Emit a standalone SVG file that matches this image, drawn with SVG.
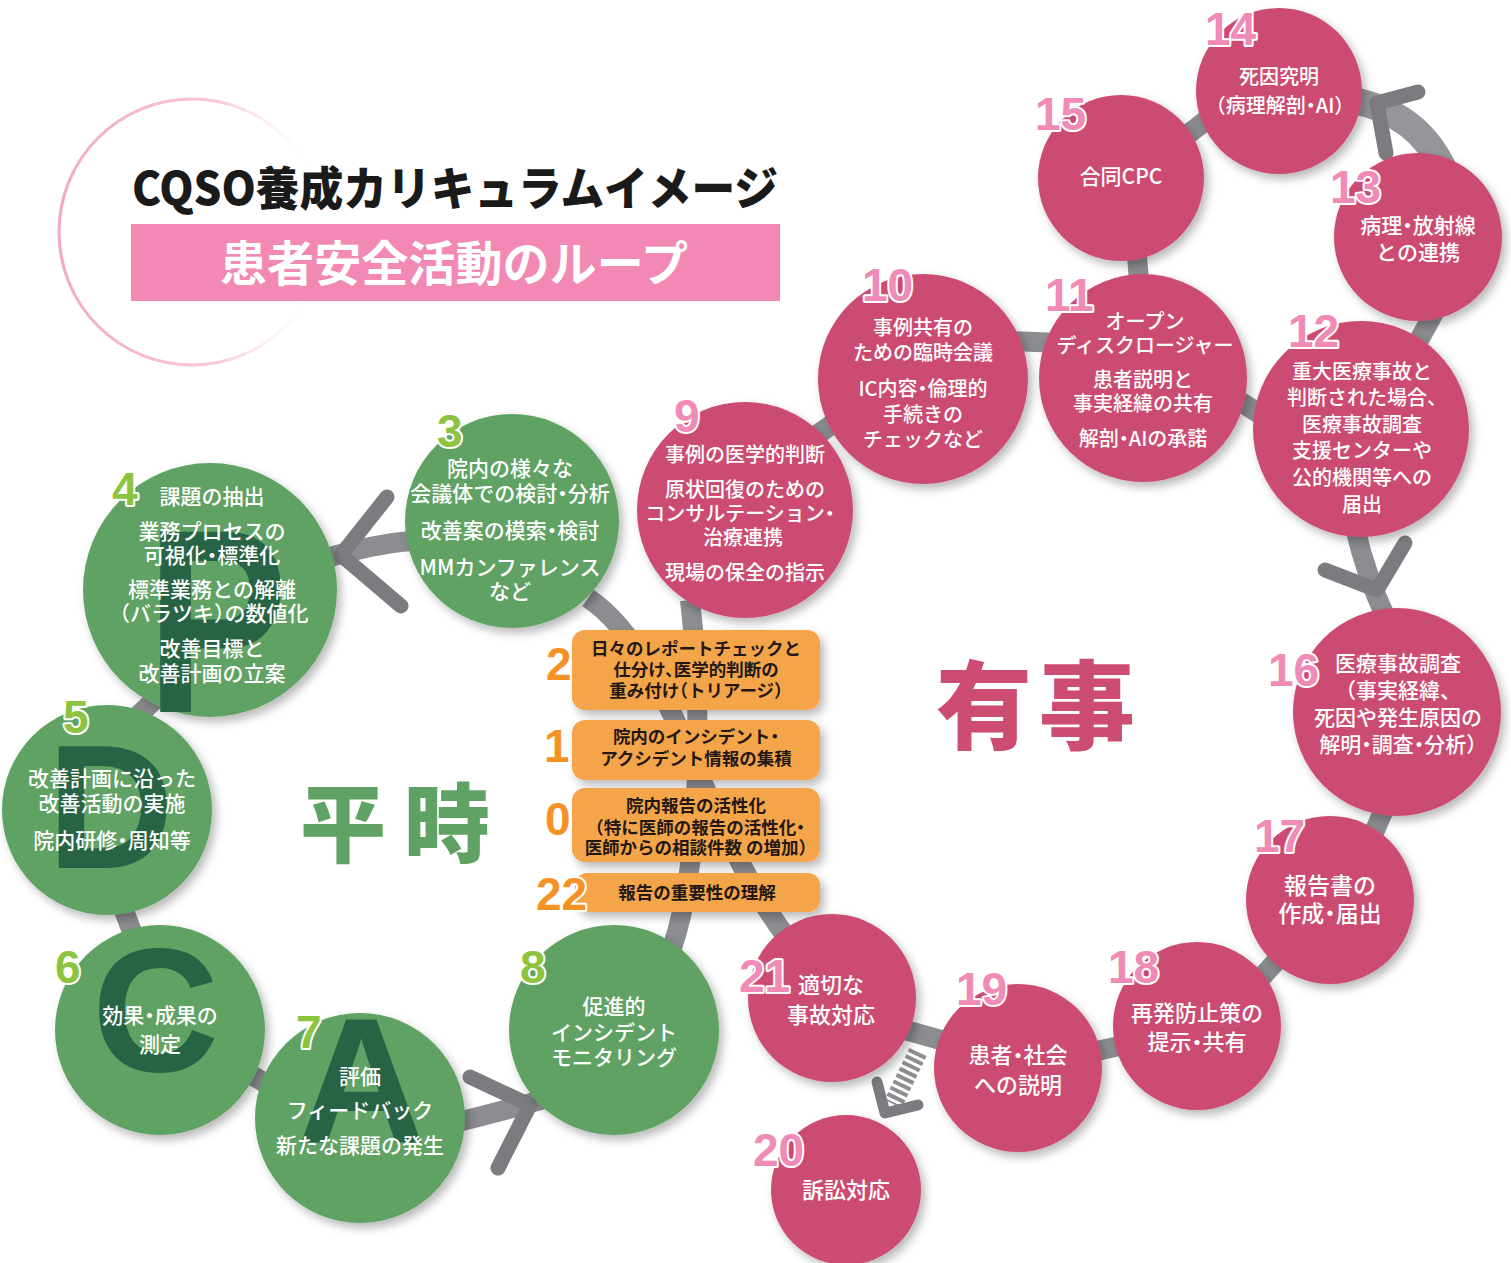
<svg xmlns="http://www.w3.org/2000/svg" width="1511" height="1263" viewBox="0 0 1511 1263">
<defs>
<style>
.t{font-family:"Noto Sans CJK JP","Noto Sans",sans-serif;fill:#fff;font-size:20px;text-anchor:middle;font-weight:500;font-feature-settings:"halt"}
.b{font-family:"Noto Sans CJK JP","Noto Sans",sans-serif;fill:#231815;font-size:17.5px;text-anchor:middle;font-weight:700;font-feature-settings:"halt"}
.num{font-family:"Liberation Sans",Arial,sans-serif;font-weight:bold;font-size:46px;stroke:#fff;stroke-width:4;paint-order:stroke;stroke-linejoin:round}
.np{fill:#f08ab6}.ng{fill:#8cc43f}.no{fill:#f39325}
.gc{fill:#5fa263}.pc{fill:#cc4c72}
.band{fill:none;stroke:#8c8d91;stroke-width:20}
.chev{fill:none;stroke:#7b7c80;stroke-width:15;stroke-linecap:round;stroke-linejoin:round}
.big{font-family:"Liberation Sans",Arial,sans-serif;font-weight:bold;fill:#276445}
.ob{fill:#f5a54a}
</style>
<filter id="sh" x="-20%" y="-20%" width="150%" height="150%">
<feDropShadow dx="4" dy="5" stdDeviation="5" flood-color="#000" flood-opacity="0.28"/>
</filter>
<linearGradient id="ring" x1="0" y1="0" x2="1" y2="0">
<stop offset="0" stop-color="#f3a7c8"/>
<stop offset="0.6" stop-color="#f7c8dc"/>
<stop offset="1" stop-color="#ffffff" stop-opacity="0"/>
</linearGradient>
<clipPath id="c5"><circle cx="107" cy="810" r="105"/></clipPath>
<clipPath id="c7"><circle cx="360" cy="1118" r="105"/></clipPath>
</defs>
<rect width="1511" height="1263" fill="#fff"/>

<g id="title">
<circle cx="192" cy="232" r="133" fill="none" stroke="url(#ring)" stroke-width="3"/>
<text x="132" y="205" font-family="'Noto Sans CJK JP',sans-serif" font-weight="900" font-size="46" fill="#1a1a1a" textLength="646" lengthAdjust="spacingAndGlyphs">CQSO養成カリキュラムイメージ</text>
<rect x="131" y="224" width="649" height="77" fill="#f189b4"/>
<text x="454" y="281" font-family="'Noto Sans CJK JP',sans-serif" font-weight="700" font-size="48" fill="#fff" text-anchor="middle" textLength="468" lengthAdjust="spacingAndGlyphs">患者安全活動のループ</text>
</g>

<g id="connectors">
<path class="band" d="M420 540 Q370 544 320 560"/>
<path class="band" d="M165 690 L125 728"/>
<path class="band" d="M120 900 L137 945"/>
<path class="band" d="M240 1068 L290 1098"/>
<path class="band" d="M450 1124 Q500 1112 548 1098"/>
<path class="band" d="M672 948 C702 860 702 700 690 600"/>
<path class="band" d="M588 598 C680 660 700 840 805 960"/>
<path class="band" d="M800 447 L852 410"/>
<path class="band" d="M1010 341 L1060 343"/>
<path class="band" d="M1136 245 L1140 292"/>
<path class="band" d="M1178 142 L1222 108"/>
<path class="band" d="M1350 100 Q1418 112 1445 172" style="stroke:#95969a;stroke-width:27"/>
<path class="band" d="M1230 395 L1272 422"/>
<path class="band" d="M1418 342 L1442 298"/>
<path class="band" d="M1355 528 Q1366 575 1386 618"/>
<path class="band" d="M1388 800 L1370 842"/>
<path class="band" d="M1288 948 L1252 988"/>
<path class="band" d="M1128 1044 L1088 1053"/>
<path class="band" d="M948 1042 L898 1028"/>
<path d="M918 1052 L893 1104" fill="none" stroke="#8c8d91" stroke-width="19" stroke-dasharray="4 3"/>
<polyline class="chev" points="387,497 341,555 401,606"/>
<polyline class="chev" points="470,1077 530,1105 498,1168"/>
<polyline class="chev" points="1418,92 1377,103 1386,153"/>
<polyline class="chev" points="1325,570 1377,590 1405,543"/>
<polyline class="chev" points="877,1082 885,1113 918,1105" style="stroke-width:11"/>
</g>

<g id="boxes">
<g id="n2"><rect class="ob" x="572" y="630" width="248" height="80" rx="13" filter="url(#sh)"/>
<text class="b" x="696" y="655">日々のレポートチェックと</text>
<text class="b" x="696" y="676">仕分け、医学的判断の</text>
<text class="b" x="696" y="697">重み付け（トリアージ）</text>
<text class="num no" x="546" y="680">2</text></g>
<g id="n1"><rect class="ob" x="572" y="720" width="248" height="60" rx="13" filter="url(#sh)"/>
<text class="b" x="696" y="743">院内のインシデント・</text>
<text class="b" x="696" y="765">アクシデント情報の集積</text>
<text class="num no" x="544" y="762">1</text></g>
<g id="n0"><rect class="ob" x="572" y="788" width="248" height="74" rx="13" filter="url(#sh)"/>
<text class="b" x="696" y="812">院内報告の活性化</text>
<text class="b" x="700" y="834">（特に医師の報告の活性化・</text>
<text class="b" x="696" y="854">医師からの相談件数 の増加）</text>
<text class="num no" x="545" y="835">0</text></g>
<g id="n22"><rect class="ob" x="575" y="873" width="245" height="39" rx="12" filter="url(#sh)"/>
<text class="b" x="697" y="899">報告の重要性の理解</text>
<text class="num no" x="536" y="910">22</text></g>
</g>

<g id="n3"><circle class="gc" cx="512" cy="521" r="107" filter="url(#sh)"/>
<text class="t" x="510" y="476" style="font-size:21px">院内の様々な</text>
<text class="t" x="510" y="501" style="font-size:21px">会議体での検討・分析</text>
<text class="t" x="510" y="538" style="font-size:21px">改善案の模索・検討</text>
<text class="t" x="510" y="575" style="font-size:21px">MMカンファレンス</text>
<text class="t" x="510" y="599" style="font-size:21px">など</text>
<text class="num ng" x="437" y="447">3</text></g>

<g id="n4"><circle class="gc" cx="210" cy="590" r="127" filter="url(#sh)"/>
<text class="big" x="146" y="712" font-size="262" textLength="142" lengthAdjust="spacingAndGlyphs">P</text>
<text class="t" x="212" y="504" style="font-size:21px">課題の抽出</text>
<text class="t" x="212" y="539" style="font-size:21px">業務プロセスの</text>
<text class="t" x="212" y="563" style="font-size:21px">可視化・標準化</text>
<text class="t" x="212" y="597" style="font-size:21px">標準業務との解離</text>
<text class="t" x="214" y="621" style="font-size:21px">（バラツキ）の数値化</text>
<text class="t" x="212" y="656" style="font-size:21px">改善目標と</text>
<text class="t" x="212" y="681" style="font-size:21px">改善計画の立案</text>
<text class="num ng" x="112" y="505">4</text></g>

<g id="n5"><circle class="gc" cx="107" cy="810" r="105" filter="url(#sh)"/>
<g clip-path="url(#c5)"><text class="big" x="47" y="868" font-size="176">D</text></g>
<text class="t" x="112" y="786" style="font-size:21px">改善計画に沿った</text>
<text class="t" x="112" y="811" style="font-size:21px">改善活動の実施</text>
<text class="t" x="112" y="848" style="font-size:21px">院内研修・周知等</text>
<text class="num ng" x="63" y="733">5</text></g>

<g id="n6"><circle class="gc" cx="160" cy="1030" r="105" filter="url(#sh)"/>
<text class="big" x="92" y="1071" font-size="176">C</text>
<text class="t" x="160" y="1023" style="font-size:21px">効果・成果の</text>
<text class="t" x="160" y="1052" style="font-size:21px">測定</text>
<text class="num ng" x="55" y="983">6</text></g>

<g id="n7"><circle class="gc" cx="360" cy="1118" r="105" filter="url(#sh)"/>
<g clip-path="url(#c7)"><text class="big" x="297" y="1142" font-size="178">A</text></g>
<text class="t" x="360" y="1084" style="font-size:21px">評価</text>
<text class="t" x="360" y="1118" style="font-size:21px">フィードバック</text>
<text class="t" x="360" y="1153" style="font-size:21px">新たな課題の発生</text>
<text class="num ng" x="296" y="1048">7</text></g>

<g id="n8"><circle class="gc" cx="614" cy="1030" r="105" filter="url(#sh)"/>
<text class="t" x="614" y="1014" style="font-size:21px">促進的</text>
<text class="t" x="614" y="1040" style="font-size:21px">インシデント</text>
<text class="t" x="614" y="1065" style="font-size:21px">モニタリング</text>
<text class="num ng" x="520" y="983">8</text></g>

<g id="n9"><circle class="pc" cx="745" cy="510" r="108" filter="url(#sh)"/>
<text class="t" x="745" y="462">事例の医学的判断</text>
<text class="t" x="745" y="497">原状回復のための</text>
<text class="t" x="740" y="521">コンサルテーション・</text>
<text class="t" x="743" y="545">治療連携</text>
<text class="t" x="745" y="580">現場の保全の指示</text>
<text class="num np" x="674" y="432">9</text></g>

<g id="n10"><circle class="pc" cx="923" cy="379" r="105" filter="url(#sh)"/>
<text class="t" x="923" y="335">事例共有の</text>
<text class="t" x="923" y="360">ための臨時会議</text>
<text class="t" x="923" y="396">IC内容・倫理的</text>
<text class="t" x="923" y="422">手続きの</text>
<text class="t" x="923" y="447">チェックなど</text>
<text class="num np" x="862" y="301">10</text></g>

<g id="n11"><circle class="pc" cx="1143" cy="378" r="104" filter="url(#sh)"/>
<text class="t" x="1145" y="329">オープン</text>
<text class="t" x="1145" y="353">ディスクロージャー</text>
<text class="t" x="1143" y="387">患者説明と</text>
<text class="t" x="1143" y="411">事実経緯の共有</text>
<text class="t" x="1143" y="446">解剖・AIの承諾</text>
<text class="num np" x="1045" y="311">11</text></g>

<g id="n15"><circle class="pc" cx="1121" cy="178" r="83" filter="url(#sh)"/>
<text class="t" x="1121" y="184" style="font-size:21px">合同CPC</text>
<text class="num np" x="1035" y="130">15</text></g>

<g id="n14"><circle class="pc" cx="1279" cy="91" r="83" filter="url(#sh)"/>
<text class="t" x="1279" y="84">死因究明</text>
<text class="t" x="1280" y="113">（病理解剖・AI）</text>
<text class="num np" x="1205" y="45">14</text></g>

<g id="n13"><circle class="pc" cx="1418" cy="237" r="84" filter="url(#sh)"/>
<text class="t" x="1418" y="233" style="font-size:21px">病理・放射線</text>
<text class="t" x="1418" y="260" style="font-size:21px">との連携</text>
<text class="num np" x="1330" y="203">13</text></g>

<g id="n12"><circle class="pc" cx="1361" cy="429" r="108" filter="url(#sh)"/>
<text class="t" x="1362" y="379">重大医療事故と</text>
<text class="t" x="1362" y="405">判断された場合、</text>
<text class="t" x="1362" y="432">医療事故調査</text>
<text class="t" x="1362" y="458">支援センターや</text>
<text class="t" x="1362" y="485">公的機関等への</text>
<text class="t" x="1362" y="512">届出</text>
<text class="num np" x="1288" y="347">12</text></g>

<g id="n16"><circle class="pc" cx="1397" cy="712" r="104" filter="url(#sh)"/>
<text class="t" x="1398" y="671" style="font-size:21px">医療事故調査</text>
<text class="t" x="1398" y="698" style="font-size:21px">（事実経緯、</text>
<text class="t" x="1398" y="725" style="font-size:21px">死因や発生原因の</text>
<text class="t" x="1398" y="752" style="font-size:21px">解明・調査・分析）</text>
<text class="num np" x="1268" y="686">16</text></g>

<g id="n17"><circle class="pc" cx="1330" cy="900" r="84" filter="url(#sh)"/>
<text class="t" x="1330" y="894" style="font-size:23px">報告書の</text>
<text class="t" x="1330" y="922" style="font-size:23px">作成・届出</text>
<text class="num np" x="1254" y="852">17</text></g>

<g id="n18"><circle class="pc" cx="1197" cy="1026" r="84" filter="url(#sh)"/>
<text class="t" x="1197" y="1021" style="font-size:22px">再発防止策の</text>
<text class="t" x="1197" y="1050" style="font-size:22px">提示・共有</text>
<text class="num np" x="1108" y="983">18</text></g>

<g id="n19"><circle class="pc" cx="1018" cy="1068" r="84" filter="url(#sh)"/>
<text class="t" x="1018" y="1063" style="font-size:22px">患者・社会</text>
<text class="t" x="1018" y="1093" style="font-size:22px">への説明</text>
<text class="num np" x="956" y="1005">19</text></g>

<g id="n21"><circle class="pc" cx="832" cy="998" r="84" filter="url(#sh)"/>
<text class="t" x="831" y="993" style="font-size:22px">適切な</text>
<text class="t" x="831" y="1023" style="font-size:22px">事故対応</text>
<text class="num np" x="739" y="992">21</text></g>

<g id="n20"><circle class="pc" cx="846" cy="1190" r="75" filter="url(#sh)"/>
<text class="t" x="846" y="1198" style="font-size:22px">訴訟対応</text>
<text class="num np" x="753" y="1166">20</text></g>

<g id="labels">
<text x="343" y="856" font-family="'Noto Sans CJK JP',sans-serif" font-weight="900" font-size="86" fill="#5fa263" text-anchor="middle">平</text>
<text x="447" y="856" font-family="'Noto Sans CJK JP',sans-serif" font-weight="900" font-size="86" fill="#5fa263" text-anchor="middle">時</text>
<text x="984" y="741" font-family="'Noto Sans CJK JP',sans-serif" font-weight="900" font-size="96" fill="#cc4c72" text-anchor="middle">有</text>
<text x="1087" y="741" font-family="'Noto Sans CJK JP',sans-serif" font-weight="900" font-size="96" fill="#cc4c72" text-anchor="middle">事</text>
</g>
</svg>
